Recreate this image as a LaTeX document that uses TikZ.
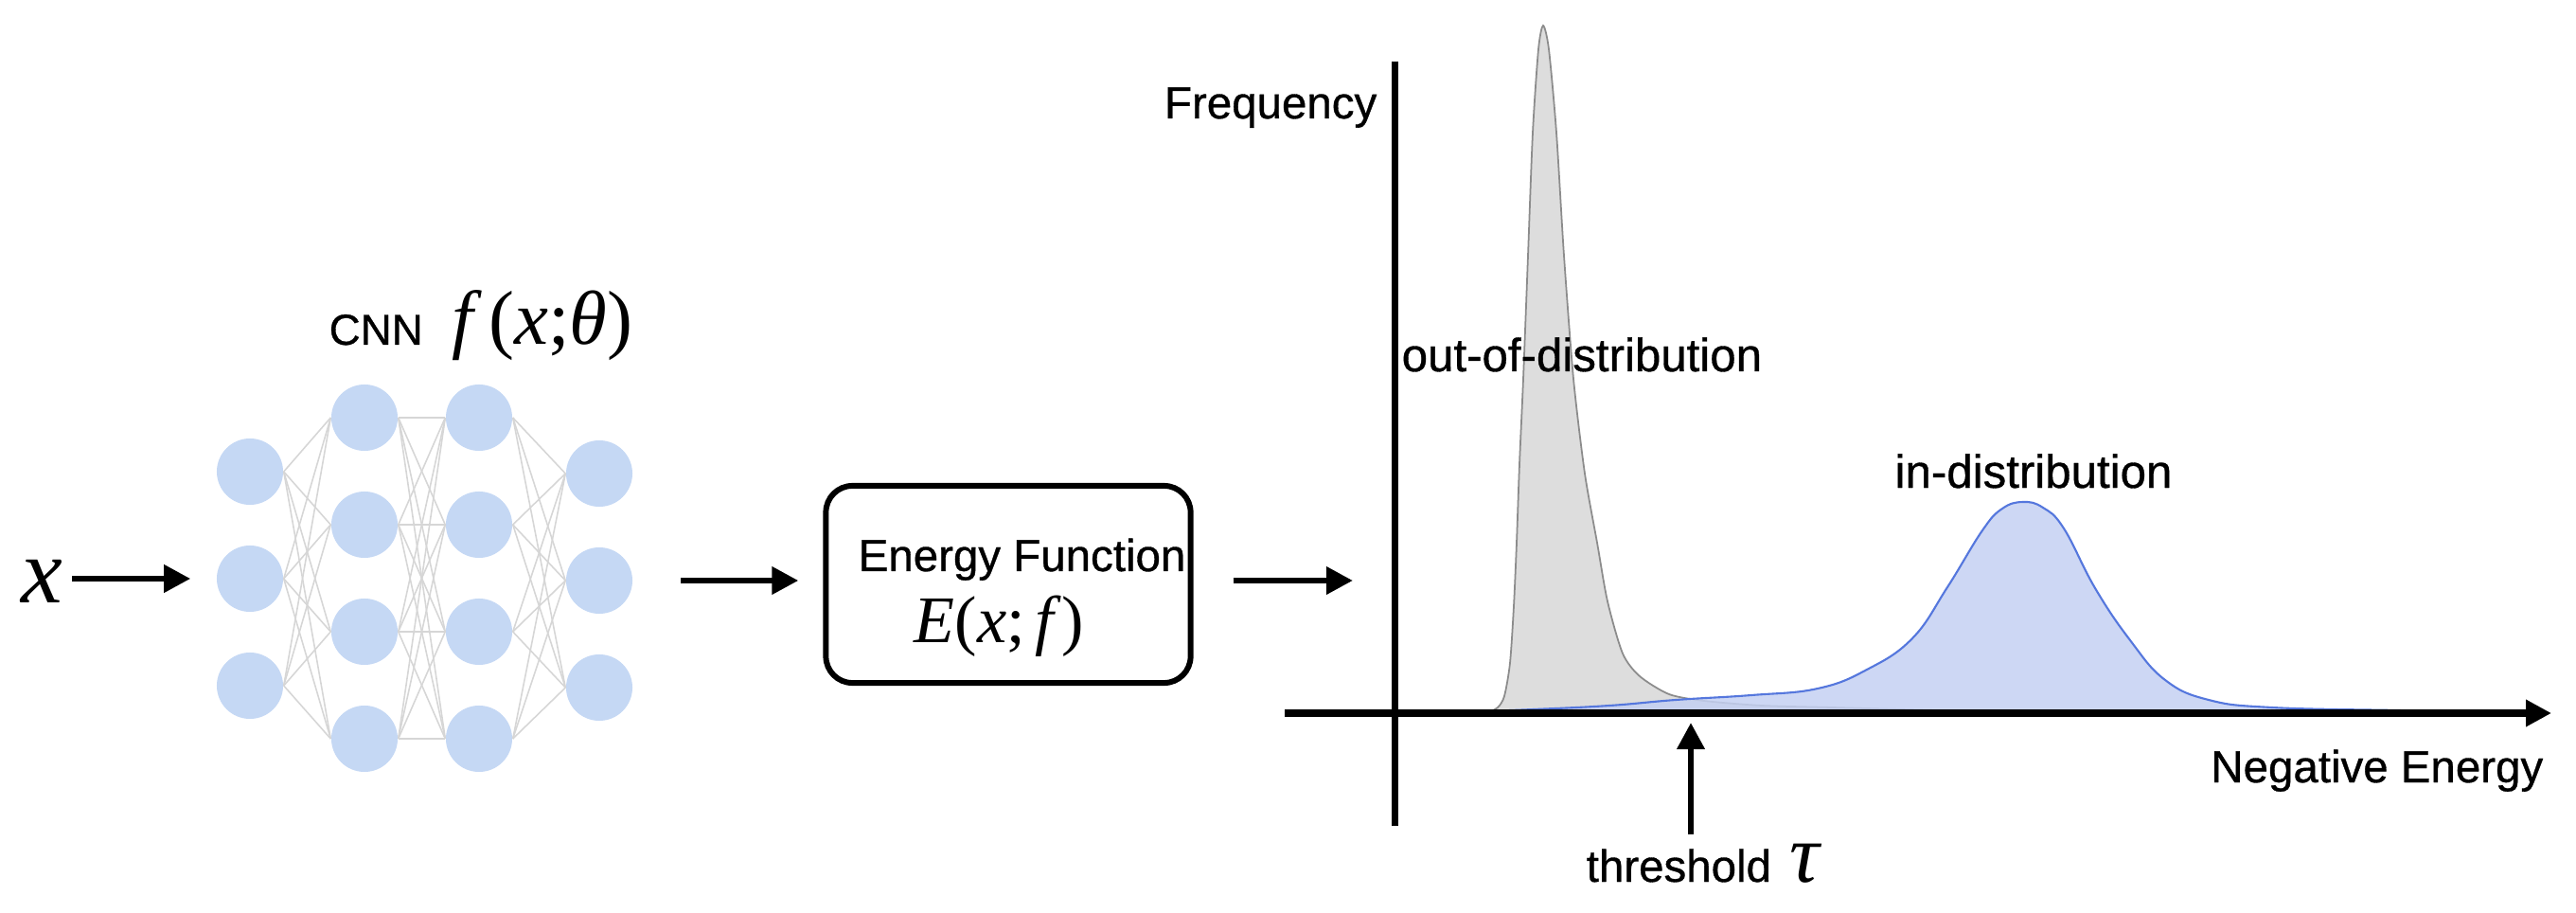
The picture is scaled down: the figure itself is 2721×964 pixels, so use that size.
\documentclass[tikz,border=0pt]{standalone}
\usepackage{fontspec}
\setmainfont{Liberation Sans}[UprightFeatures={FakeBold=0.7}]
\newfontfamily\tms{Liberation Serif}
\usetikzlibrary{arrows.meta}

\definecolor{neuronblue}{RGB}{197,216,244}
\definecolor{wiregray}{RGB}{214,214,214}
\definecolor{oodfill}{RGB}{221,221,221}
\definecolor{oodline}{RGB}{140,140,140}
\definecolor{idfill}{RGB}{196,208,242}
\definecolor{idline}{RGB}{85,119,221}

\newcommand{\mi}[1]{{\tms\itshape #1}}
\newcommand{\tup}[1]{{\tms #1}}
\newcommand{\lblfont}{\fontsize{13.5}{16}\selectfont}

\tikzset{
  neuron/.style={circle, fill=neuronblue, minimum size=0.7cm, inner sep=0pt},
  wire/.style={draw=wiregray, line width=0.45pt},
  flow/.style={line width=1.9pt, -{Triangle[length=0.28cm,width=0.28cm]}},
  axisline/.style={line width=2pt},
  lbl/.style={font=\lblfont, inner sep=0pt},
}

\begin{document}
\begin{tikzpicture}[x=0.01cm, y=-0.01cm]
    \useasboundingbox (0,0) rectangle (2721,964);

    % network
    \foreach \i/\y in {1/498,2/611,3/724} \node[neuron] (a\i) at (264,\y) {};
    \foreach \i/\y in {1/441,2/554,3/667,4/780} {
        \node[neuron] (b\i) at (385,\y) {};
        \node[neuron] (c\i) at (506,\y) {};
    }
    \foreach \i/\y in {1/500,2/613,3/726} \node[neuron] (d\i) at (633,\y) {};

    \foreach \i in {1,2,3} \foreach \j in {1,...,4} {
        \draw[wire] (a\i.east) -- (b\j.west);
        \draw[wire] (c\j.east) -- (d\i.west);
    }
    \foreach \i in {1,...,4} \foreach \j in {1,...,4} \draw[wire] (b\i.east) -- (c\j.west);

    \node[lbl, anchor=base west, font=\fontsize{13}{16}\selectfont] (cnn) at (347,364) {CNN};
    \node[anchor=base west, inner sep=0pt, font=\fontsize{23}{26}\selectfont] (fx) at (477,364)
        {\mi{f}\hspace{0.2em}\tup{(}\mi{x}\tup{;}\mi{θ}\tup{)}};

    \node[anchor=base west, inner sep=0pt, font=\fontsize{28}{30}\selectfont] (xin) at (22,636) {\mi{x}};
    \draw[flow, shorten <=0.09cm, shorten >=0.27cm] (xin.east |- a2) -- (a2);

    % energy function
    \node[draw, line width=1.7pt, rounded corners=0.28cm, minimum width=3.85cm, minimum height=2.08cm]
        (energy) at (1065,617) {};
    \node[lbl, anchor=base west] (efun) at (906,603) {Energy Function};
    \node[anchor=base west, inner sep=0pt, font=\fontsize{20}{24}\selectfont] (emath) at (965,678)
        {\mi{E}\tup{(}\mi{x}\tup{;}\hspace{0.15em}\mi{f}\hspace{0.12em}\tup{)}};

    \draw[flow, shorten <=0.5cm, shorten >=0.26cm] (d2.east) -- (d2.east -| energy.west);
    \coordinate (hist) at (1429,613);
    \draw[flow, shorten <=0.42cm] (energy.east |- hist) -- (hist);

    % histograms
    \filldraw[fill=oodfill, draw=oodline, line width=0.5pt] plot[smooth, tension=0.45] coordinates {
        (1540,752) (1572,751) (1582,747) (1589,735) (1595,700) (1599,640) (1602,573) (1605,490)
        (1609,400) (1614,270) (1619,140) (1625,52) (1630,27) (1636,52) (1644,140) (1652,270)
        (1662,400) (1674,500) (1687,573) (1698,635) (1714,690) (1732,714) (1763,733) (1800,740)
        (1861,745) (1935,747) (2046,750) (2150,752)};
    \filldraw[fill=idfill, fill opacity=0.85, draw=idline, line width=0.6pt] plot[smooth, tension=0.7] coordinates {
        (1540,752) (1620,749) (1700,745) (1770,739) (1850,734) (1920,727) (1972,707) (2020,674)
        (2057,620) (2094,560) (2115,537) (2137,530) (2158,536) (2180,558) (2213,621) (2250,676)
        (2287,718) (2333,739) (2400,747) (2533,750) (2600,751)};

    % axes
    \coordinate (ytop) at (1473,65);
    \coordinate (ybot) at (1473,872);
    \coordinate (xleft) at (1357,753);
    \coordinate (xright) at (2695,753);
    \draw[axisline] (ytop) -- (ybot);
    \draw[axisline, -{Triangle[length=0.27cm,width=0.27cm]}] (xleft) -- (xright);

    \node[lbl, anchor=base east] (freq) at (1455,125) {Frequency};
    \node[lbl, anchor=base east] (negE) at (2687,826) {Negative Energy};
    \node[lbl, anchor=base west, font=\fontsize{14}{16}\selectfont] (ood) at (1480,392) {out-of-distribution};
    \node[lbl, anchor=base, font=\fontsize{14}{16}\selectfont] (ind) at (2148,515) {in-distribution};

    % threshold
    \coordinate (tau) at (1786,763);
    \node[lbl, anchor=base west] (thr) at (1675,931)
        {threshold\hspace{0.4em}{\fontsize{25}{26}\selectfont\mi{τ}}};
    \draw[flow, shorten <=0.09cm] (thr.north -| tau) -- (tau);
\end{tikzpicture}
\end{document}
